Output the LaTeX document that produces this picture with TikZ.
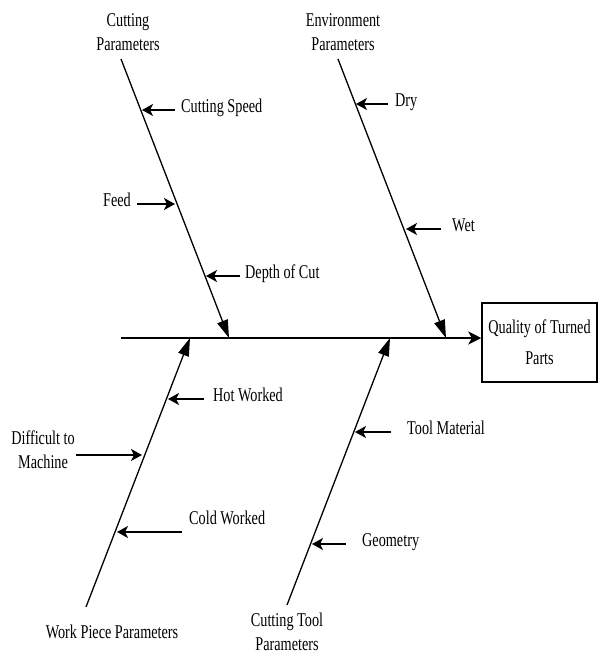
\documentclass[tikz,border=0pt]{standalone}
\usepackage{fontspec}
\setmainfont{Liberation Serif}[FakeStretch=0.73]
\usetikzlibrary{arrows.meta}
\begin{document}
\begin{tikzpicture}[x=1pt,y=-1pt,
  lbl/.style={font=\fontsize{19.5}{24}\selectfont, inner sep=0pt, align=center},
  sub/.style={line width=1.8pt, -{Stealth[length=11pt,width=12pt,inset=3pt]}},
  bone/.style={line width=1.3pt, -{Triangle[length=18pt,width=11pt]}},
  spinestyle/.style={line width=1.4pt, -{Stealth[length=13pt,width=13pt,inset=3.5pt]}},
  effect/.style={draw, line width=1.5pt, minimum width=115pt, minimum height=79pt,
    font=\fontsize{19.5}{31}\selectfont, align=center, inner sep=0pt}
]
\useasboundingbox (0,0) rectangle (598,657);

% effect box and spine
\node[effect] (box) at (539.5,342.5) {Quality of Turned\\Parts};
\coordinate (spS) at (121,338);
\draw[spinestyle] (spS) -- (spS -| box.west);

% branch labels
\node[lbl] (cp) at (128,32) {Cutting\\Parameters};
\node[lbl] (ep) at (343,32) {Environment\\Parameters};
\node[lbl] (wp) at (112,632) {Work Piece Parameters};
\node[lbl] (ct) at (287,632) {Cutting Tool\\Parameters};

% branches
\coordinate (cpS) at (121,59);  \coordinate (cpE) at (229,338);
\coordinate (epS) at (338,59);  \coordinate (epE) at (446,338);
\coordinate (wpS) at (86,607);  \coordinate (wpE) at (190,338);
\coordinate (ctS) at (287,605); \coordinate (ctE) at (390,338);
\draw[bone] (cpS) -- (cpE);
\draw[bone] (epS) -- (epE);
\draw[bone] (wpS) -- (wpE);
\draw[bone] (ctS) -- (ctE);

% Cutting parameters causes
\node[lbl, anchor=mid west] (cs) at (181,110) {Cutting Speed};
\coordinate (cst) at (142,110);
\draw[sub, shorten <=6pt] (cs.mid west) -- (cst);

\node[lbl, anchor=mid east] (fd) at (131,204) {Feed};
\coordinate (fdt) at (175,204);
\draw[sub, shorten <=6pt] (fd.mid east) -- (fdt);

\node[lbl, anchor=mid west] (dc) at (245,276) {Depth of Cut};
\coordinate (dct) at (206,276);
\draw[sub, shorten <=5pt] (dc.mid west) -- (dct);

% Environment causes
\node[lbl, anchor=mid west] (dry) at (395,104) {Dry};
\coordinate (dryt) at (356,104);
\draw[sub, shorten <=7pt] (dry.mid west) -- (dryt);

\node[lbl, anchor=mid west] (wet) at (452,229) {Wet};
\coordinate (wett) at (406,229);
\draw[sub, shorten <=11pt] (wet.mid west) -- (wett);

% Work piece causes
\node[lbl, anchor=mid west] (hw) at (213,399) {Hot Worked};
\coordinate (hwt) at (168,399);
\draw[sub, shorten <=9pt] (hw.mid west) -- (hwt);

\node[lbl] (dm) at (43,450) {Difficult to\\Machine};
\coordinate (dms) at (76,455);
\coordinate (dmt) at (142,455);
\draw[sub] (dms) -- (dmt);

\node[lbl, anchor=mid west] (cw) at (189,522) {Cold Worked};
\coordinate (cws) at (182,532);
\coordinate (cwt) at (117,532);
\draw[sub] (cws) -- (cwt);

% Cutting tool causes
\node[lbl, anchor=mid west] (tm) at (407,432) {Tool Material};
\coordinate (tmt) at (355,432);
\draw[sub, shorten <=16pt] (tm.mid west) -- (tmt);

\node[lbl, anchor=mid west] (ge) at (362,544) {Geometry};
\coordinate (get) at (312,544);
\draw[sub, shorten <=16pt] (ge.mid west) -- (get);
\end{tikzpicture}
\end{document}
